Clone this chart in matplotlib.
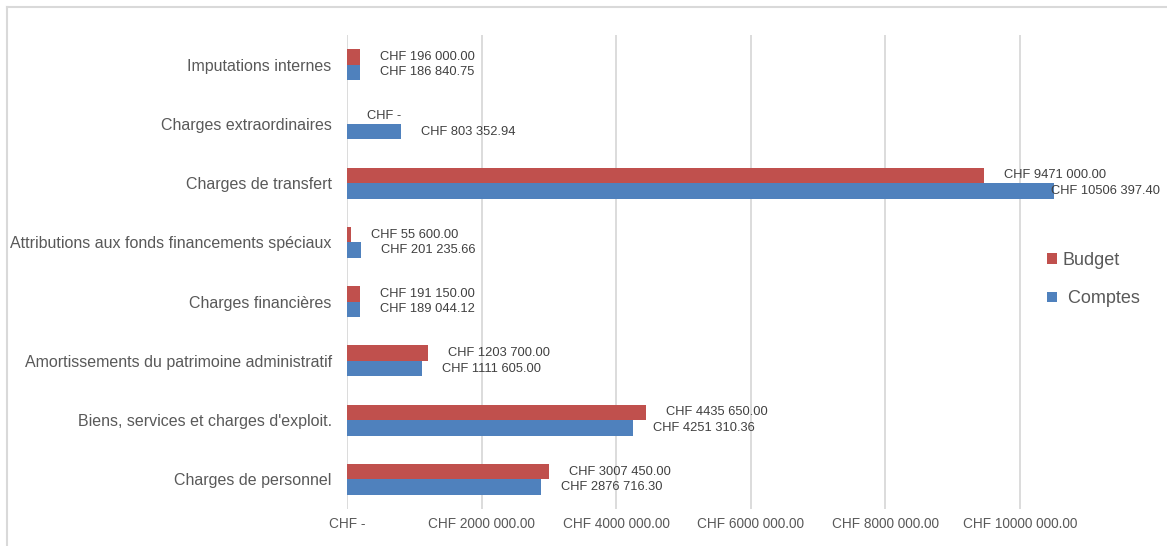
import matplotlib
matplotlib.use("Agg")
import matplotlib.pyplot as plt
import matplotlib.transforms as mtrans
from matplotlib.lines import Line2D

plt.rcParams['font.family'] = ['Liberation Sans', 'DejaVu Sans']

categories = [
    "Charges de personnel",
    "Biens, services et charges d'exploit.",
    "Amortissements du patrimoine administratif",
    "Charges financières",
    "Attributions aux fonds financements spéciaux",
    "Charges de transfert",
    "Charges extraordinaires",
    "Imputations internes",
]
budget = [3007450.00, 4435650.00, 1203700.00, 191150.00, 55600.00, 9471000.00, 0.0, 196000.00]
comptes = [2876716.30, 4251310.36, 1111605.00, 189044.12, 201235.66, 10506397.40, 803352.94, 186840.75]
series_names = ["Budget", " Comptes"]
xticks = [0, 2000000, 4000000, 6000000, 8000000, 10000000]

RED = "#C0504D"
BLUE = "#4F81BD"
GRAY = "#595959"
GRID = "#D9D9D9"


def fmt(v):
    if v == 0:
        return "CHF -"
    n = int(round(v * 100))
    ip, dp = divmod(n, 100)
    if ip >= 1000:
        s = f"{ip // 1000} {ip % 1000:03d}"
    else:
        s = f"{ip}"
    return f"CHF {s}.{dp:02d}"


W, H, DPI = 1167, 546, 100
fig = plt.figure(figsize=(W / DPI, H / DPI), dpi=DPI)
left, right, top, bottom = 347, 1060.4, 35, 509
ax = fig.add_axes([left / W, 1 - bottom / H, (right - left) / W, (bottom - top) / H])

y = list(range(len(categories)))
bh = 0.262
b1 = ax.barh([i + bh / 2 for i in y], budget, height=bh, color=RED, label=series_names[0], zorder=3)
b2 = ax.barh([i - bh / 2 for i in y], comptes, height=bh, color=BLUE, label=series_names[1], zorder=3)

ax.set_xlim(0, 10.6e6)
ax.set_ylim(-0.5, len(categories) - 0.5)
ax.set_yticks(y)
ax.set_yticklabels(categories, fontsize=11.5, color=GRAY)
ax.set_xticks(xticks)
ax.set_xticklabels([fmt(v) for v in xticks], fontsize=9.8, color=GRAY)
ax.tick_params(axis='both', length=0)
ax.tick_params(axis='y', pad=11)
ax.tick_params(axis='x', pad=6)
for s in ax.spines.values():
    s.set_visible(False)
ax.grid(axis='x', color=GRID, linewidth=1.3, zorder=0)
ax.set_axisbelow(True)

texts = []
for vals, off in ((budget, bh / 2), (comptes, -bh / 2)):
    for i, v in enumerate(vals):
        tr = ax.transData + mtrans.ScaledTranslation(20 / DPI, 0, fig.dpi_scale_trans)
        t = ax.text(v, i + off, fmt(v), fontsize=9.3, color="#404040", ha='left', va='center',
                    transform=tr, zorder=4)
        texts.append((t, v, i + off))

leg = fig.legend(handles=[b1, b2], labels=series_names, loc='upper left',
                 bbox_to_anchor=(1031 / W, 1 - 236 / H), frameon=False, fontsize=13,
                 handlelength=0.55, handleheight=0.55, handletextpad=0.3, labelspacing=1.17,
                 labelcolor=GRAY)

# Border
fig.add_artist(Line2D([6.5 / W, 6.5 / W], [0, 1 - 6.5 / H], transform=fig.transFigure, color=GRID, lw=1.5))
fig.add_artist(Line2D([6.5 / W, 1], [1 - 6.5 / H, 1 - 6.5 / H], transform=fig.transFigure, color=GRID, lw=1.5))

fig.canvas.draw()
r = fig.canvas.get_renderer()
for t, v, yy in texts:
    bb = t.get_window_extent(r)
    if bb.x1 > W - 6:
        shift = bb.x1 - (W - 7)
        tr = ax.transData + mtrans.ScaledTranslation((20 - shift) / DPI, 0, fig.dpi_scale_trans)
        t.set_transform(tr)

fig.savefig("out.png", dpi=DPI)
